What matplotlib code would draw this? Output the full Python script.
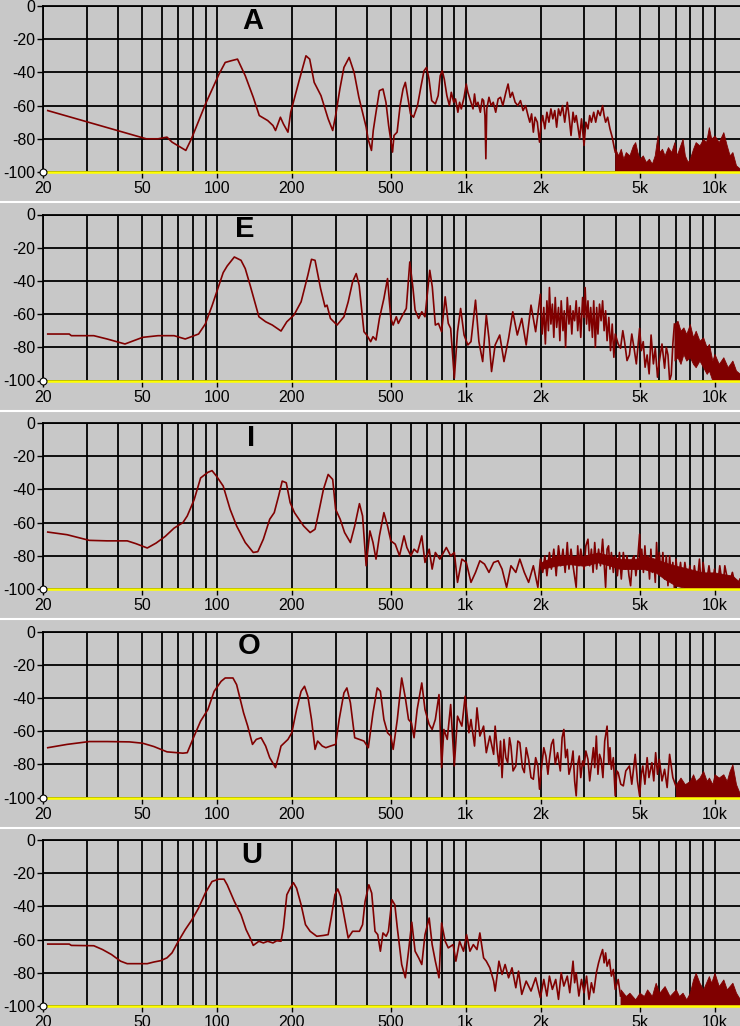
import matplotlib
matplotlib.use("Agg")
import matplotlib.pyplot as plt
from matplotlib.lines import Line2D
from matplotlib.ticker import NullFormatter

plt.rcParams['font.family'] = ['Liberation Sans', 'DejaVu Sans']
plt.rcParams['axes.unicode_minus'] = False

vowels = ["A", "E", "I", "O", "U"]

# spectrum lines, (Hz, dB)
spec_a = [(20.9, -63), (52, -80), (58, -80), (63, -79), (66, -82), (75, -87), (79, -80), (90, -59),
          (102, -41), (108, -34), (114, -33), (121, -32), (130, -42), (140, -55), (148, -66), (160, -69),
          (168, -72), (172, -75), (180, -67), (185, -71), (193, -76), (198, -64), (214, -45), (228, -30),
          (236, -32), (246, -46), (262, -54), (280, -68), (292, -75), (300, -66), (312, -50), (324, -37),
          (340, -31), (356, -40), (372, -55), (382, -62), (398, -73), (405, -80), (418, -87), (425, -75),
          (435, -65), (450, -51), (465, -50), (478, -58), (490, -72), (500, -81), (508, -88), (515, -78),
          (530, -76), (545, -60), (560, -50), (572, -46), (585, -55), (600, -65), (617, -67), (640, -60),
          (660, -49), (680, -39), (696, -37), (712, -44), (730, -57), (755, -59), (775, -54), (790, -42),
          (805, -39), (820, -44), (840, -54), (860, -60), (875, -52), (895, -58), (910, -56), (930, -64),
          (945, -58), (960, -62), (985, -55), (1005, -47), (1020, -52), (1040, -56), (1070, -62),
          (1085, -53), (1100, -60), (1120, -58), (1145, -64), (1165, -56), (1180, -57), (1195, -66),
          (1205, -92), (1215, -62), (1240, -55), (1265, -60), (1290, -58), (1320, -64), (1350, -56),
          (1380, -55), (1410, -60), (1450, -52), (1480, -47), (1510, -55), (1540, -52), (1580, -58),
          (1620, -60), (1660, -57), (1700, -63), (1740, -60), (1780, -66), (1810, -70), (1840, -65),
          (1870, -76), (1900, -67), (1940, -70), (1980, -82), (2010, -71), (2040, -66), (2080, -74),
          (2120, -64), (2160, -70), (2200, -62), (2240, -68), (2280, -63), (2320, -73), (2360, -62),
          (2400, -66), (2450, -60), (2500, -70), (2560, -58), (2600, -66), (2650, -78), (2700, -64),
          (2740, -70), (2780, -66), (2820, -72), (2870, -80), (2920, -68), (2990, -84), (3040, -70),
          (3100, -74), (3150, -66), (3200, -70), (3270, -64), (3330, -70), (3400, -63), (3470, -66),
          (3550, -60), (3600, -66), (3650, -70), (3720, -67), (3800, -74), (3880, -79), (3950, -85),
          (3990, -88)]

spec_e = [(20.9, -72), (25.5, -72), (26, -73), (32, -73), (36.2, -75), (42.7, -78), (50.3, -74),
          (58, -73), (67.3, -73), (74.6, -75), (84.4, -72), (89.8, -66), (95.6, -55), (101.7, -43),
          (106, -35), (110, -31), (117.5, -25.6), (125, -27.6), (130, -32.6), (136, -42.6), (147.5, -61.6),
          (157, -64.6), (167, -66.6), (181, -70.2), (191, -64.6), (204, -60.6), (218, -52.6), (232, -36.6),
          (240, -27), (248, -27.6), (261, -44.6), (272, -55.6), (277, -54.6), (286, -62.6), (304, -66.6),
          (324, -61.6), (337, -52.6), (351, -40.6), (363, -35.6), (373, -42.6), (390, -70.6), (400, -72.6),
          (415, -76.6), (424, -73.6), (436, -75.6), (450, -62.6), (469, -50.6), (485, -38.6), (500, -62.6),
          (511, -66.6), (526, -61.6), (536, -65.6), (553, -61.6), (577, -56.6), (596, -28.6), (614, -44.6),
          (626, -57.6), (647, -62.6), (666, -58.6), (686, -61.6), (717, -33.6), (734, -43.6), (755, -66.6),
          (777, -65.6), (800, -70.6), (827, -49.6), (851, -65.6), (870, -68.6), (900, -98.6), (927, -70.6),
          (954, -56.6), (985, -72.6), (1020, -78.6), (1050, -76.6), (1095, -51.6), (1130, -76.6),
          (1170, -88.6), (1210, -60.6), (1240, -74.6), (1270, -94.6), (1313, -78.6), (1370, -72.6),
          (1425, -88.6), (1487, -74.6), (1546, -58.6), (1612, -72.6), (1680, -62.6), (1750, -78.6),
          (1830, -54.6), (1910, -70.6), (1996, -48), (2030, -72), (2060, -56), (2090, -78), (2120, -52),
          (2150, -70), (2170, -44), (2200, -66), (2230, -54), (2260, -74), (2290, -50), (2320, -68),
          (2360, -56), (2390, -76), (2420, -52), (2460, -70), (2490, -58), (2520, -80), (2560, -50),
          (2600, -66), (2630, -55), (2670, -72), (2700, -58), (2740, -64), (2780, -52), (2820, -70),
          (2860, -56), (2900, -74), (2950, -50), (2990, -62), (3020, -44), (3060, -66), (3100, -52),
          (3140, -70), (3180, -56), (3230, -74), (3270, -52), (3320, -80), (3360, -56), (3400, -72),
          (3450, -54), (3500, -64), (3550, -52), (3600, -70), (3650, -58), (3700, -76), (3760, -62),
          (3820, -82), (3880, -66), (3940, -86), (3990, -72), (4100, -78), (4190, -80.6), (4280, -70),
          (4350, -76.6), (4450, -88), (4550, -84.6), (4650, -72), (4750, -80.6), (4850, -90), (5000, -68.6),
          (5080, -82), (5170, -76.6), (5260, -92), (5360, -84.6), (5460, -96), (5560, -72.6), (5680, -90),
          (5780, -80.6), (5900, -98), (6000, -88.6), (6150, -78), (6300, -92.6), (6400, -80), (6500, -84.6),
          (6600, -100), (6700, -96.6), (6800, -78), (6900, -66)]

spec_i = [(20.9, -65.7), (25, -67.3), (30.7, -70.7), (36.2, -71), (43.6, -71), (47.3, -72.7), (52.5, -75.3),
          (57, -72.3), (62, -68.3), (67.3, -63.3), (73, -60), (76, -56), (81, -46.2), (86, -33.1), (92, -29.7),
          (95.6, -28.7), (99.6, -32), (106, -38), (113, -52), (120, -62), (130, -72), (140, -78), (146, -77.5),
          (153.7, -70), (163, -58), (170, -54), (177, -44), (183, -35), (190, -36), (197, -48), (205, -54),
          (223, -62), (237, -66), (248, -64), (258, -52), (268, -40), (280, -31), (292, -34), (300, -52),
          (313, -58), (326, -66), (344, -72), (358, -62), (374, -48.6), (385, -56), (398, -86), (412, -65),
          (424, -72), (436, -82), (450, -68), (469, -54), (485, -62), (500, -71), (521, -73), (542, -80),
          (565, -68), (580, -75), (602, -80), (620, -76), (640, -78), (666, -68), (686, -84), (713, -76),
          (733, -88), (755, -78), (787, -82), (836, -75), (870, -80), (900, -78), (927, -96), (965, -82),
          (1005, -84), (1050, -96), (1095, -90), (1140, -83), (1190, -85), (1240, -90), (1295, -84),
          (1350, -83), (1400, -88), (1460, -99), (1520, -86), (1590, -90), (1650, -82), (1720, -90),
          (1790, -96), (1870, -86), (1950, -99), (1996, -82), (2040, -90), (2080, -80), (2120, -92),
          (2170, -78), (2210, -88), (2260, -76), (2310, -92), (2360, -74), (2410, -86), (2460, -76),
          (2510, -90), (2560, -72), (2600, -88), (2650, -76), (2700, -86), (2780, -99), (2820, -74),
          (2850, -86), (2900, -76), (2990, -88), (3040, -74), (3100, -70), (3150, -86), (3200, -76),
          (3250, -90), (3300, -72), (3360, -88), (3420, -76), (3480, -86), (3550, -70), (3600, -84),
          (3650, -99), (3700, -76), (3750, -74), (3800, -88), (3850, -78), (3920, -90), (3990, -80),
          (4070, -92), (4150, -78), (4220, -94), (4300, -78), (4380, -88), (4450, -80), (4530, -92),
          (4600, -98), (4680, -82), (4750, -80), (4830, -92), (4900, -84), (5000, -67), (5050, -86),
          (5100, -76), (5180, -90), (5250, -74), (5320, -88), (5400, -80), (5480, -94), (5550, -76),
          (5620, -90), (5700, -82), (5780, -96), (5850, -72), (5930, -90), (6000, -78), (6100, -92),
          (6200, -78), (6300, -94), (6400, -80), (6500, -98), (6600, -80), (6700, -94), (6800, -84),
          (6900, -100), (7000, -82), (7150, -96), (7300, -84), (7450, -98), (7600, -84), (7800, -96),
          (7960, -86), (8150, -100), (8300, -86), (8500, -98), (8700, -82), (8850, -100), (9000, -84),
          (9250, -98), (9500, -86), (9750, -100), (10000, -88), (10250, -100), (10500, -86),
          (10800, -100), (11000, -86), (11400, -98), (11800, -90), (12200, -100), (12660, -94)]

spec_o = [(20.9, -70), (25, -68), (30.7, -66.3), (36.2, -66.3), (44.5, -66.5), (50.3, -67.3), (55.8, -69.3),
          (63, -72.5), (73, -73.3), (76, -73), (81, -63), (86, -54), (92, -47), (97.5, -36), (104, -30),
          (108, -28), (116, -28), (120, -32), (128, -49), (133, -57), (139, -68), (144, -65), (150.6, -64),
          (157, -69), (163, -76), (172, -82), (177, -75), (181, -69), (193, -65), (200, -61), (209, -47),
          (218, -36), (225, -33), (232, -39), (240, -53), (248, -71), (254, -66), (265, -69), (274, -70),
          (286, -69), (300, -68), (310, -53), (324, -37), (333, -34), (344, -43), (358, -64), (374, -65),
          (390, -66), (406, -70), (424, -49), (441, -34), (454, -36), (469, -53), (485, -61), (500, -63),
          (511, -71), (531, -53), (553, -28), (572, -40), (589, -53), (605, -55), (620, -64), (638, -47),
          (666, -31), (686, -47), (713, -56), (733, -59), (755, -53), (781, -38), (800, -82), (817, -59),
          (843, -65), (870, -44), (900, -81), (927, -51), (965, -57), (995, -39), (1030, -61), (1050, -53),
          (1085, -69), (1110, -46), (1140, -63), (1180, -57), (1210, -73), (1250, -63), (1295, -74),
          (1313, -57), (1340, -72), (1360, -81), (1380, -66), (1400, -88), (1425, -65), (1450, -76),
          (1475, -79), (1500, -64), (1520, -69), (1550, -84), (1590, -81), (1620, -66), (1650, -67),
          (1690, -82), (1720, -85), (1750, -70), (1790, -77), (1830, -88), (1870, -89), (1910, -76),
          (1950, -81), (1980, -95), (2020, -81), (2060, -70), (2100, -75), (2140, -86), (2170, -77),
          (2210, -68), (2250, -65), (2290, -80), (2340, -73), (2400, -84), (2440, -64), (2480, -59),
          (2520, -76), (2560, -71), (2600, -86), (2650, -81), (2700, -72), (2740, -90), (2780, -99),
          (2820, -80), (2860, -75), (2900, -88), (2950, -78), (2990, -81), (3040, -72), (3100, -77),
          (3150, -90), (3200, -81), (3260, -70), (3300, -82), (3350, -63), (3400, -86), (3450, -74),
          (3500, -77), (3560, -88), (3620, -66), (3700, -57), (3760, -80), (3800, -70), (3850, -83),
          (3920, -76), (3990, -99), (4050, -84), (4100, -85), (4200, -92), (4300, -93), (4400, -84),
          (4550, -81), (4650, -92), (4800, -74), (4900, -90), (5000, -99), (5080, -86), (5150, -81),
          (5250, -92), (5360, -76), (5450, -88), (5600, -79), (5700, -90), (5800, -73), (5900, -86),
          (6000, -77), (6150, -90), (6300, -83), (6450, -94), (6600, -74), (6800, -88), (6990, -93),
          (7200, -99)]

spec_u = [(20.9, -62.7), (25.5, -62.7), (26, -63.5), (32, -63.7), (34.7, -66), (37.7, -69), (41, -73),
          (43.6, -74.5), (52.5, -74.5), (55.8, -73.5), (59.4, -72.7), (63, -71), (66, -68), (70, -61),
          (74.6, -54), (79.4, -48), (84.4, -41), (89.8, -32), (95.6, -25), (101.7, -23.6), (106.8, -23.6),
          (110, -27), (117.5, -37), (125, -45), (131, -54), (136, -59), (140, -63.5), (147.5, -61),
          (153.7, -62), (160, -61), (168, -62), (174, -60.7), (181, -61), (185, -53), (191, -33), (197, -29),
          (203, -25.7), (209, -29), (218, -39), (227, -51), (237, -55), (252, -58), (268, -57.5), (280, -57),
          (288, -47), (298, -33), (306, -29.5), (314, -34), (324, -45), (337, -59), (351, -55), (374, -55),
          (385, -51), (394, -37), (408, -27), (419, -32), (432, -55), (443, -57), (454, -67), (465, -56),
          (479, -58), (489, -55), (505, -36), (519, -39), (531, -53), (553, -75), (572, -83), (589, -67),
          (607, -49.5), (626, -67), (647, -71), (666, -75), (686, -57), (713, -47), (733, -63), (755, -73),
          (781, -83), (800, -50), (827, -61), (851, -65), (890, -63), (913, -73), (945, -61), (980, -67),
          (1008, -57), (1040, -67), (1073, -63), (1110, -66), (1140, -56), (1180, -71), (1210, -73),
          (1250, -77), (1295, -85), (1313, -91), (1360, -73), (1400, -81), (1440, -75), (1487, -83),
          (1535, -77), (1590, -89), (1630, -79), (1680, -93), (1750, -85), (1830, -91), (1910, -83),
          (1996, -95), (2060, -84), (2120, -94), (2170, -82), (2230, -90), (2300, -84), (2360, -96),
          (2420, -80), (2480, -88), (2560, -82), (2620, -92), (2700, -73), (2740, -86), (2780, -80),
          (2850, -94), (2920, -84), (2990, -92), (3060, -82), (3130, -96), (3200, -86), (3270, -92),
          (3350, -80), (3420, -74), (3480, -70), (3550, -66), (3600, -74), (3650, -68), (3700, -76),
          (3780, -72), (3850, -82), (3920, -78), (3990, -90), (4100, -84), (4190, -94)]

# dense noise bands, (Hz, top dB, bottom dB)
band_a = [(3990, -86, -100), (4100, -90, -100), (4200, -86, -100), (4300, -92, -100), (4400, -88, -100),
          (4550, -90, -100), (4700, -84, -100), (4800, -82, -100), (4900, -88, -100), (5000, -92, -100),
          (5150, -90, -100), (5300, -94, -100), (5450, -92, -100), (5600, -95, -100), (5750, -90, -100),
          (5900, -78, -100), (6000, -88, -100), (6150, -86, -100), (6300, -90, -100), (6500, -85, -100),
          (6700, -88, -100), (6900, -82, -100), (7050, -90, -100), (7200, -86, -100), (7440, -80, -100),
          (7600, -90, -100), (7800, -94, -100), (7960, -92, -100), (8200, -86, -100), (8400, -82, -100),
          (8700, -84, -100), (9000, -80, -100), (9250, -82, -100), (9490, -73, -100), (9700, -80, -100),
          (10000, -78, -100), (10400, -82, -100), (10850, -76, -100), (11200, -84, -100), (11500, -90, -100),
          (11800, -88, -100), (12200, -96, -100), (12660, -98, -100)]

band_e = [(6900, -66, -88), (7100, -64, -86), (7300, -70, -90), (7500, -68, -84), (7700, -72, -88),
          (7960, -66, -86), (8200, -74, -90), (8400, -70, -92), (8700, -76, -88), (9000, -74, -92),
          (9300, -80, -96), (9500, -78, -94), (9800, -88, -100), (10000, -84, -100), (10400, -90, -100),
          (10850, -86, -100), (11300, -92, -100), (11800, -88, -100), (12200, -94, -100), (12660, -96, -100)]

band_i = [(2000, -84, -88), (2300, -80, -86), (2600, -80, -85), (2990, -80, -86), (3400, -78, -84),
          (3800, -80, -86), (4200, -82, -88), (4800, -82, -88), (5200, -80, -88), (5800, -82, -90),
          (6300, -84, -94), (6990, -86, -98), (7960, -88, -100), (9000, -90, -100), (10000, -90, -100),
          (11800, -92, -100), (12660, -96, -100)]

band_o = [(7000, -92, -100), (7300, -88, -100), (7600, -92, -100), (7960, -90, -100), (8200, -86, -100),
          (8400, -90, -100), (8700, -88, -100), (9000, -84, -100), (9300, -90, -100), (9500, -88, -100),
          (9800, -92, -100), (10000, -86, -100), (10400, -88, -100), (10850, -86, -100), (11200, -90, -100),
          (11500, -84, -100), (11800, -80, -100), (12200, -92, -100), (12660, -98, -100)]

band_u = [(4190, -90, -100), (4400, -94, -100), (4550, -92, -100), (4800, -96, -100), (5000, -92, -100),
          (5200, -94, -100), (5360, -90, -100), (5600, -94, -100), (5800, -86, -100), (6000, -92, -100),
          (6300, -88, -100), (6600, -94, -100), (6990, -90, -100), (7200, -94, -100), (7440, -92, -100),
          (7700, -96, -100), (7960, -92, -100), (8200, -84, -100), (8400, -80, -100), (8700, -86, -100),
          (9000, -90, -100), (9490, -82, -100), (9700, -86, -100), (10000, -80, -100), (10400, -88, -100),
          (10850, -84, -100), (11200, -90, -100), (11800, -86, -100), (12200, -92, -100), (12660, -96, -100)]

spectra = [spec_a, spec_e, spec_i, spec_o, spec_u]
bands = [band_a, band_e, band_i, band_o, band_u]
label_x = [0.301, 0.289, 0.299, 0.296, 0.299]

grid_freqs = [20, 30, 40, 50, 60, 70, 80, 90, 100, 200, 300, 400, 500, 600, 700, 800, 900,
              1000, 2000, 3000, 4000, 5000, 6000, 7000, 8000, 9000, 10000]
tick_freqs = [20, 50, 100, 200, 500, 1000, 2000, 5000, 10000]
tick_labels = ["20", "50", "100", "200", "500", "1k", "2k", "5k", "10k"]
db_ticks = [0, -20, -40, -60, -80, -100]

bg = "#c8c8c8"
red = "#800000"
W, H = 740, 1026

fig = plt.figure(figsize=(W / 100, H / 100), dpi=100, facecolor=bg)

for i in range(5):
    top = 6 + i * 208.5
    ax = fig.add_axes([43 / W, 1 - (top + 166) / H, 697 / W, 166 / H])
    ax.set_facecolor(bg)
    ax.set_xscale("log")
    ax.set_xlim(20, 12660)
    ax.set_ylim(-100, 0)

    ax.set_xticks(tick_freqs, tick_labels)
    ax.set_xticks([f for f in grid_freqs if f not in tick_freqs], minor=True)
    ax.xaxis.set_minor_formatter(NullFormatter())
    ax.set_yticks(db_ticks)
    ax.tick_params(axis="x", which="major", length=4.5, width=1, pad=2, labelsize=11.5, color="black")
    ax.tick_params(axis="x", which="minor", length=0)
    ax.tick_params(axis="y", length=4.5, width=1, pad=1, labelsize=11.5)
    ax.grid(True, which="both", color="black", lw=1.3)
    ax.set_axisbelow(True)

    for s in ["top", "left"]:
        ax.spines[s].set_color("black")
        ax.spines[s].set_linewidth(1.3)
    ax.spines["right"].set_visible(False)
    ax.spines["bottom"].set_color("#ffff00")
    ax.spines["bottom"].set_linewidth(1.8)

    bf = [b[0] for b in bands[i]]
    ax.fill_between(bf, [b[2] for b in bands[i]], [b[1] for b in bands[i]],
                    color=red, lw=0.6, zorder=1.9)
    ax.plot([p[0] for p in spectra[i]], [p[1] for p in spectra[i]], color=red, lw=1.2, zorder=2)

    ax.plot([20], [-100], "o", ms=5, mfc="white", mec="black", mew=0.8, clip_on=False, zorder=5)
    ax.text(label_x[i], 0.91, vowels[i], transform=ax.transAxes, ha="center", va="center",
            fontsize=21, fontweight="bold", color="black")

# white separators between panels
for k in range(4):
    y = 1 - (202 + k * 208.5) / H
    fig.add_artist(Line2D([0, 1], [y, y], transform=fig.transFigure, color="white", lw=1.5))

fig.savefig("out.png", dpi=100, facecolor=bg)
